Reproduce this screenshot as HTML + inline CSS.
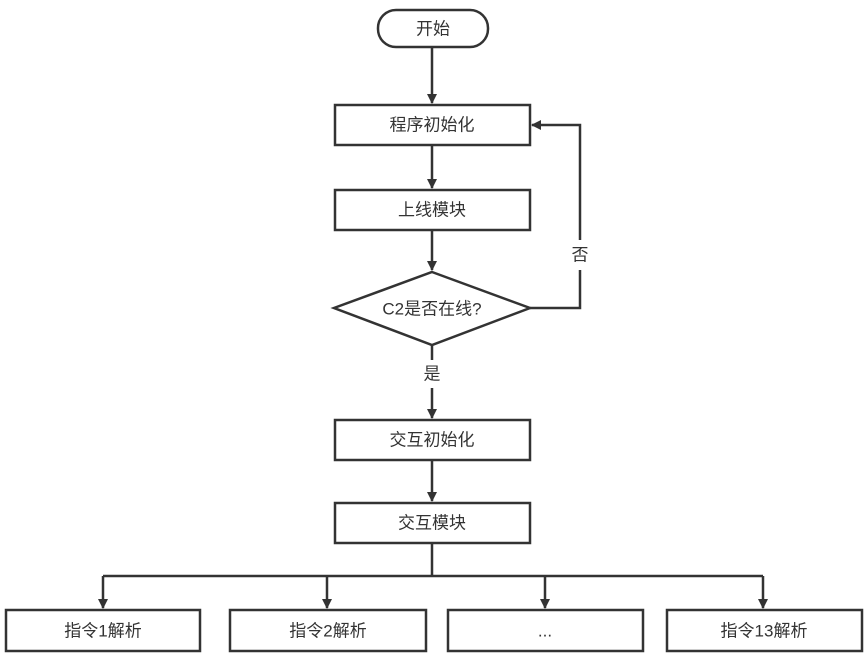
<!DOCTYPE html>
<html><head><meta charset="utf-8"><style>
html,body{margin:0;padding:0;background:#fff;}
svg{display:block;}
text{font-family:"Liberation Sans","Noto Sans CJK SC",sans-serif;font-size:17px;fill:#333;text-anchor:middle;dominant-baseline:central;}
</style></head><body>
<svg width="865" height="659" viewBox="0 0 865 659">
<defs><marker id="a" markerWidth="10" markerHeight="10" refX="9" refY="5" orient="auto" markerUnits="userSpaceOnUse"><path d="M0,0 L10,5 L0,10 Z" fill="#333"/></marker></defs>
<g stroke="#333" stroke-width="2.5" fill="none">
<rect x="378" y="10" width="110" height="37" rx="18" fill="#fff"/>
<rect x="335" y="105" width="195" height="40" fill="#fff"/>
<rect x="335" y="190" width="195" height="40" fill="#fff"/>
<polygon points="432,272 530,308 432,345 334,308" fill="#fff"/>
<rect x="335" y="420" width="195" height="40" fill="#fff"/>
<rect x="335" y="503" width="195" height="40" fill="#fff"/>
<rect x="6" y="610" width="194" height="41" fill="#fff"/>
<rect x="230" y="610" width="196" height="41" fill="#fff"/>
<rect x="448" y="610" width="195" height="41" fill="#fff"/>
<rect x="667" y="610" width="195" height="41" fill="#fff"/>
<line x1="432" y1="47" x2="432" y2="103" marker-end="url(#a)"/>
<line x1="432" y1="145" x2="432" y2="188" marker-end="url(#a)"/>
<line x1="432" y1="230" x2="432" y2="270" marker-end="url(#a)"/>
<line x1="432" y1="345" x2="432" y2="360"/>
<line x1="432" y1="388" x2="432" y2="418" marker-end="url(#a)"/>
<line x1="432" y1="460" x2="432" y2="501" marker-end="url(#a)"/>
<polyline points="530,308 580,308 580,270"/>
<polyline points="580,240 580,125 532,125" marker-end="url(#a)"/>
<line x1="432" y1="543" x2="432" y2="576"/>
<line x1="103" y1="576" x2="763" y2="576"/>
<line x1="103" y1="576" x2="103" y2="608" marker-end="url(#a)"/>
<line x1="327" y1="576" x2="327" y2="608" marker-end="url(#a)"/>
<line x1="545" y1="576" x2="545" y2="608" marker-end="url(#a)"/>
<line x1="763" y1="576" x2="763" y2="608" marker-end="url(#a)"/>
</g>
<text x="433" y="29">开始</text>
<text x="432" y="125">程序初始化</text>
<text x="432" y="210">上线模块</text>
<text x="432" y="309">C2是否在线?</text>
<text x="580" y="255">否</text>
<text x="432" y="374">是</text>
<text x="432" y="440">交互初始化</text>
<text x="432" y="523">交互模块</text>
<text x="103" y="631">指令1解析</text>
<text x="328" y="631">指令2解析</text>
<text x="545" y="631">...</text>
<text x="764" y="631">指令13解析</text>
</svg>
</body></html>
